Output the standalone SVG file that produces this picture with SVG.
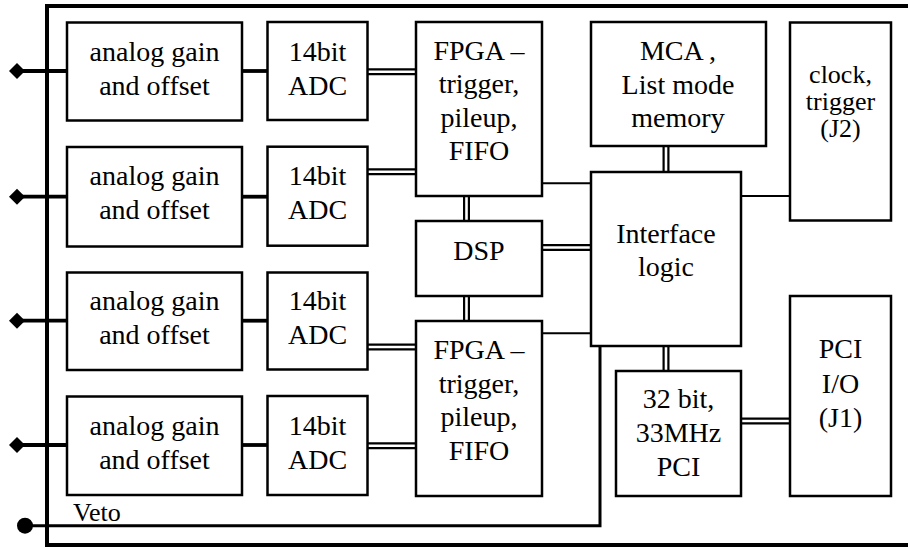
<svg xmlns="http://www.w3.org/2000/svg" width="908" height="548" viewBox="0 0 908 548">
<style>
.box{fill:#fff;stroke:#000;stroke-width:2.5}
.thick{stroke:#000;stroke-width:3.8;fill:none}
.thin{stroke:#000;stroke-width:2;fill:none}
.dbl{stroke:#000;stroke-width:2.2;fill:none}
</style>
<rect width="908" height="548" fill="#fff"/>
<g id="border"><path d="M912 6 H47 V545 H912" fill="none" stroke="#000" stroke-width="4"/></g>
<g id="connectors">
  <line class="thick" x1="17" y1="71" x2="67" y2="71"/>
  <line class="thick" x1="17" y1="196.7" x2="67" y2="196.7"/>
  <line class="thick" x1="17" y1="320.7" x2="67" y2="320.7"/>
  <line class="thick" x1="17" y1="445" x2="67" y2="445"/>
  <polygon points="9,71 17,63 25,71 17,79"/>
  <polygon points="9,196.7 17,188.7 25,196.7 17,204.7"/>
  <polygon points="9,320.7 17,312.7 25,320.7 17,328.7"/>
  <polygon points="9,445 17,437 25,445 17,453"/>
  <line class="thick" x1="242" y1="71" x2="267.5" y2="71"/>
  <line class="thick" x1="242" y1="196.7" x2="267.5" y2="196.7"/>
  <line class="thick" x1="242" y1="320.7" x2="267.5" y2="320.7"/>
  <line class="thick" x1="242" y1="445" x2="267.5" y2="445"/>
  <path class="dbl" d="M367.5 69.3H416M367.5 74.1H416"/>
  <path class="dbl" d="M367.5 169.3H416M367.5 174.1H416"/>
  <path class="dbl" d="M367.5 344.6H416M367.5 349.4H416"/>
  <path class="dbl" d="M367.5 443.3H416M367.5 448.1H416"/>
  <path class="dbl" d="M464.1 196V221M468.9 196V221"/>
  <path class="dbl" d="M464.1 296V321M468.9 296V321"/>
  <path class="dbl" d="M542 245.1H591M542 249.9H591"/>
  <line class="thin" x1="542" y1="183.3" x2="591" y2="183.3"/>
  <line class="thin" x1="542" y1="333.3" x2="591" y2="333.3"/>
  <path class="dbl" d="M663.6 146V172M668.4 146V172"/>
  <line class="thin" x1="741" y1="196" x2="790" y2="196"/>
  <path class="dbl" d="M663.6 346V371M668.4 346V371"/>
  <path class="dbl" d="M741 418.6H790M741 423.4H790"/>
  <path d="M25 525.7H600V346" fill="none" stroke="#000" stroke-width="3"/>
  <circle cx="25" cy="525.7" r="8"/>
</g>
<text x="73" y="520.7" font-family="Liberation Serif" font-size="26">Veto</text>
<g id="analog1"><rect class="box" x="67" y="22.5" width="175" height="98"/><text x="154.5" y="61" font-family="Liberation Serif" font-size="28" text-anchor="middle">analog gain</text><text x="154.5" y="95" font-family="Liberation Serif" font-size="28" text-anchor="middle">and offset</text></g>
<g id="analog2"><rect class="box" x="67" y="147" width="175" height="99.5"/><text x="154.5" y="184.5" font-family="Liberation Serif" font-size="28" text-anchor="middle">analog gain</text><text x="154.5" y="219" font-family="Liberation Serif" font-size="28" text-anchor="middle">and offset</text></g>
<g id="analog3"><rect class="box" x="67" y="272.5" width="175" height="97.5"/><text x="154.5" y="310" font-family="Liberation Serif" font-size="28" text-anchor="middle">analog gain</text><text x="154.5" y="343.5" font-family="Liberation Serif" font-size="28" text-anchor="middle">and offset</text></g>
<g id="analog4"><rect class="box" x="67" y="396.5" width="175" height="98.5"/><text x="154.5" y="435" font-family="Liberation Serif" font-size="28" text-anchor="middle">analog gain</text><text x="154.5" y="468.5" font-family="Liberation Serif" font-size="28" text-anchor="middle">and offset</text></g>
<g id="adc1"><rect class="box" x="267.5" y="22" width="100" height="98"/><text x="317.5" y="60.5" font-family="Liberation Serif" font-size="28" text-anchor="middle">14bit</text><text x="317.5" y="94.5" font-family="Liberation Serif" font-size="28" text-anchor="middle">ADC</text></g>
<g id="adc2"><rect class="box" x="267.5" y="146.7" width="100" height="99"/><text x="317.5" y="184.5" font-family="Liberation Serif" font-size="28" text-anchor="middle">14bit</text><text x="317.5" y="219" font-family="Liberation Serif" font-size="28" text-anchor="middle">ADC</text></g>
<g id="adc3"><rect class="box" x="267.5" y="272.5" width="100" height="97"/><text x="317.5" y="310" font-family="Liberation Serif" font-size="28" text-anchor="middle">14bit</text><text x="317.5" y="343.5" font-family="Liberation Serif" font-size="28" text-anchor="middle">ADC</text></g>
<g id="adc4"><rect class="box" x="267.5" y="396" width="100" height="99"/><text x="317.5" y="435" font-family="Liberation Serif" font-size="28" text-anchor="middle">14bit</text><text x="317.5" y="468.5" font-family="Liberation Serif" font-size="28" text-anchor="middle">ADC</text></g>
<g id="fpga1"><rect class="box" x="416" y="22" width="126" height="174"/><text x="479" y="60" font-family="Liberation Serif" font-size="28" text-anchor="middle">FPGA &#8211;</text><text x="479" y="93.3" font-family="Liberation Serif" font-size="28" text-anchor="middle">trigger,</text><text x="479" y="126.7" font-family="Liberation Serif" font-size="28" text-anchor="middle">pileup,</text><text x="479" y="160" font-family="Liberation Serif" font-size="28" text-anchor="middle">FIFO</text></g>
<g id="dsp"><rect class="box" x="416" y="221" width="126" height="75"/><text x="479" y="260" font-family="Liberation Serif" font-size="28" text-anchor="middle">DSP</text></g>
<g id="fpga2"><rect class="box" x="416" y="321" width="126" height="175"/><text x="479" y="359.3" font-family="Liberation Serif" font-size="28" text-anchor="middle">FPGA &#8211;</text><text x="479" y="392.8" font-family="Liberation Serif" font-size="28" text-anchor="middle">trigger,</text><text x="479" y="426.3" font-family="Liberation Serif" font-size="28" text-anchor="middle">pileup,</text><text x="479" y="459.8" font-family="Liberation Serif" font-size="28" text-anchor="middle">FIFO</text></g>
<g id="mca"><rect class="box" x="591" y="22" width="175" height="124"/><text x="678" y="60" font-family="Liberation Serif" font-size="28" text-anchor="middle">MCA ,</text><text x="678" y="93.5" font-family="Liberation Serif" font-size="28" text-anchor="middle">List mode</text><text x="678" y="127" font-family="Liberation Serif" font-size="28" text-anchor="middle">memory</text></g>
<g id="interface"><rect class="box" x="591" y="172" width="150" height="174"/><text x="666" y="242.7" font-family="Liberation Serif" font-size="28" text-anchor="middle">Interface</text><text x="666" y="276.3" font-family="Liberation Serif" font-size="28" text-anchor="middle">logic</text></g>
<g id="clock"><rect class="box" x="790" y="22.5" width="101" height="198"/><text x="840.5" y="83.3" font-family="Liberation Serif" font-size="26" text-anchor="middle">clock,</text><text x="840.5" y="110.3" font-family="Liberation Serif" font-size="26" text-anchor="middle">trigger</text><text x="840.5" y="137.3" font-family="Liberation Serif" font-size="26" text-anchor="middle">(J2)</text></g>
<g id="pci32"><rect class="box" x="616" y="371" width="125" height="125"/><text x="678.5" y="407.5" font-family="Liberation Serif" font-size="28" text-anchor="middle">32 bit,</text><text x="678.5" y="441.7" font-family="Liberation Serif" font-size="28" text-anchor="middle">33MHz</text><text x="678.5" y="476" font-family="Liberation Serif" font-size="28" text-anchor="middle">PCI</text></g>
<g id="pciio"><rect class="box" x="790" y="296" width="101" height="200"/><text x="840.5" y="358.3" font-family="Liberation Serif" font-size="28" text-anchor="middle">PCI</text><text x="840.5" y="392.5" font-family="Liberation Serif" font-size="28" text-anchor="middle">I/O</text><text x="840.5" y="426.7" font-family="Liberation Serif" font-size="28" text-anchor="middle">(J1)</text></g>
</svg>
